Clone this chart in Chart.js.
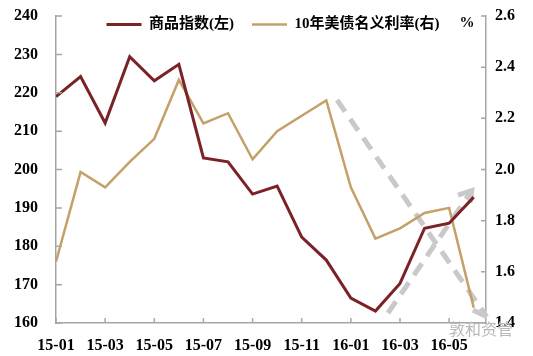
<!DOCTYPE html>
<html>
<head>
<meta charset="utf-8">
<script src="https://cdn.jsdelivr.net/npm/chart.js@4.4.1/dist/chart.umd.min.js"></script>
<style>
  html, body { margin: 0; padding: 0; background: #ffffff; }
  #wrap { width: 533px; height: 356px; }
</style>
</head>
<body>
<div id="wrap"><canvas id="c" width="533" height="356"></canvas></div>
<script>
// ---- data ----
const months = ['15-01','15-02','15-03','15-04','15-05','15-06','15-07','15-08','15-09',
                '15-10','15-11','15-12','16-01','16-02','16-03','16-04','16-05','16-06'];
const commodityIndex = [219.0, 224.2, 212.1, 229.4, 223.1, 227.4, 203.0, 202.0, 193.6,
                        195.7, 182.4, 176.4, 166.5, 163.1, 170.3, 184.7, 186.0, 192.8];
const ust10yYield = [1.64, 1.99, 1.93, 2.03, 2.12, 2.35, 2.18, 2.22, 2.04,
                     2.15, 2.21, 2.27, 1.93, 1.73, 1.77, 1.83, 1.85, 1.46];
const leftTicks = { min: 160, max: 240, step: 10 };
const rightTicks = { min: 1.4, max: 2.6, step: 0.2 };
const seriesNames = ['商品指数(左)', '10年美债名义利率(右)'];
// decorative dashed arrows (x in month index, y in left-axis units)
const arrowDownX = [11.44, 17.53];
const arrowDownY = [218.1, 161.6];
const arrowDownHeadX = [16.97, 17.53, 17.53];
const arrowDownHeadY = [163.4, 161.6, 165.55];
const arrowUpX = [13.51, 16.92];
const arrowUpY = [162.6, 194.5];
const arrowUpHeadX = [16.36, 16.92, 16.85];
const arrowUpHeadY = [193.35, 194.5, 191.3];

const RED = '#7a2226';
const TAN = '#c4a06a';
const AXIS = '#a6a6a6';
const ARROW = '#c9c9c9';
const tickFont = { family: "'Liberation Serif', 'Times New Roman', serif", size: 16, weight: 'bold' };

const toPts = (xs, ys) => xs.map((x, i) => ({ x: x, y: ys[i] }));
const seriesPts = (vals) => vals.map((v, i) => ({ x: i, y: v }));

const extras = {
  id: 'extras',
  afterInit(chart) {
    if (chart.legend) { chart.legend.isHorizontal = () => true; }
  },
  afterLayout(chart) {
    const lg = chart.legend;
    if (lg) { lg.top -= 17; lg.left += 58; lg.right += 58; }
  },
  afterDraw(chart) {
    const ctx = chart.ctx;
    const a = chart.chartArea;
    const sx = chart.scales.x, sy = chart.scales.y, sy1 = chart.scales.y1;
    ctx.save();
    ctx.strokeStyle = AXIS;
    ctx.lineWidth = 1.5;
    ctx.beginPath();
    sx.ticks.forEach((t, i) => { const p = sx.getPixelForTick(i); ctx.moveTo(p, a.bottom); ctx.lineTo(p, a.bottom - 5); });
    sy.ticks.forEach((t, i) => { const p = sy.getPixelForTick(i); ctx.moveTo(a.left, p); ctx.lineTo(a.left + 6, p); });
    sy1.ticks.forEach((t, i) => { const p = sy1.getPixelForTick(i); ctx.moveTo(a.right, p); ctx.lineTo(a.right - 5, p); });
    ctx.stroke();
    ctx.fillStyle = '#000';
    ctx.font = "bold 15px 'Liberation Serif', serif";
    ctx.textAlign = 'center';
    ctx.textBaseline = 'middle';
    ctx.fillText('%', a.right - 19, a.top + 7);
    ctx.fillStyle = '#b8b8b8';
    ctx.font = "16px 'Noto Sans CJK SC', sans-serif";
    ctx.fillText('敦和资管', 481, 329);
    ctx.restore();
  }
};

const arrowStyle = {
  borderColor: ARROW, backgroundColor: ARROW, borderWidth: 5, pointRadius: 0,
  tension: 0, yAxisID: 'y', clip: false, borderCapStyle: 'butt'
};

new Chart(document.getElementById('c'), {
  type: 'line',
  data: {
    datasets: [
      { label: seriesNames[0], data: seriesPts(commodityIndex), yAxisID: 'y',
        borderColor: RED, backgroundColor: RED, borderWidth: 3, pointRadius: 0, tension: 0 },
      { label: seriesNames[1], data: seriesPts(ust10yYield), yAxisID: 'y1',
        borderColor: TAN, backgroundColor: TAN, borderWidth: 2.5, pointRadius: 0, tension: 0 },
      Object.assign({ label: 'a1', data: toPts(arrowDownX, arrowDownY), borderDash: [14, 9] }, arrowStyle),
      Object.assign({ label: 'a2', data: toPts(arrowDownHeadX, arrowDownHeadY) }, arrowStyle),
      Object.assign({ label: 'a3', data: toPts(arrowUpX, arrowUpY), borderDash: [14, 9] }, arrowStyle),
      Object.assign({ label: 'a4', data: toPts(arrowUpHeadX, arrowUpHeadY) }, arrowStyle)
    ]
  },
  options: {
    responsive: false,
    animation: false,
    devicePixelRatio: 1,
    layout: { padding: { top: 16, right: 0, bottom: 0, left: 0 } },
    plugins: {
      tooltip: { enabled: false },
      legend: {
        position: 'chartArea',
        align: 'center',
        labels: {
          filter: (item) => item.datasetIndex < 2,
          usePointStyle: true,
          pointStyle: 'line',
          pointStyleWidth: 35,
          padding: 18,
          color: '#000',
          font: { family: "'Liberation Serif', 'Noto Sans CJK SC', serif", size: 15, weight: 'bold' }
        }
      }
    },
    scales: {
      x: {
        type: 'linear', min: 0, max: 17.5,
        afterFit: (s) => { s.height = 33; },
        ticks: {
          stepSize: 2, includeBounds: false, autoSkip: false, maxRotation: 0,
          color: '#000', font: tickFont, padding: 13,
          callback: (v) => (Number.isInteger(v) && months[v]) ? months[v] : ''
        },
        grid: { display: true, drawOnChartArea: false, drawTicks: false },
        border: { display: true, color: AXIS, width: 1.5 }
      },
      y: {
        position: 'left', min: leftTicks.min, max: leftTicks.max,
        afterFit: (s) => { s.width = 56; },
        ticks: { stepSize: leftTicks.step, color: '#000', font: tickFont, padding: 2 },
        grid: { display: true, drawOnChartArea: false, drawTicks: true, tickLength: 16, tickColor: 'rgba(0,0,0,0)' },
        border: { display: true, color: AXIS, width: 1.5 }
      },
      y1: {
        position: 'right', min: rightTicks.min, max: rightTicks.max,
        afterFit: (s) => { s.width = 47; },
        ticks: { stepSize: rightTicks.step, color: '#000', font: tickFont, padding: 2,
                 callback: (v) => Number(v).toFixed(1) },
        grid: { display: true, drawOnChartArea: false, drawTicks: true, tickLength: 7, tickColor: 'rgba(0,0,0,0)' },
        border: { display: true, color: AXIS, width: 1.5 }
      }
    }
  },
  plugins: [extras]
});
</script>
</body>
</html>
